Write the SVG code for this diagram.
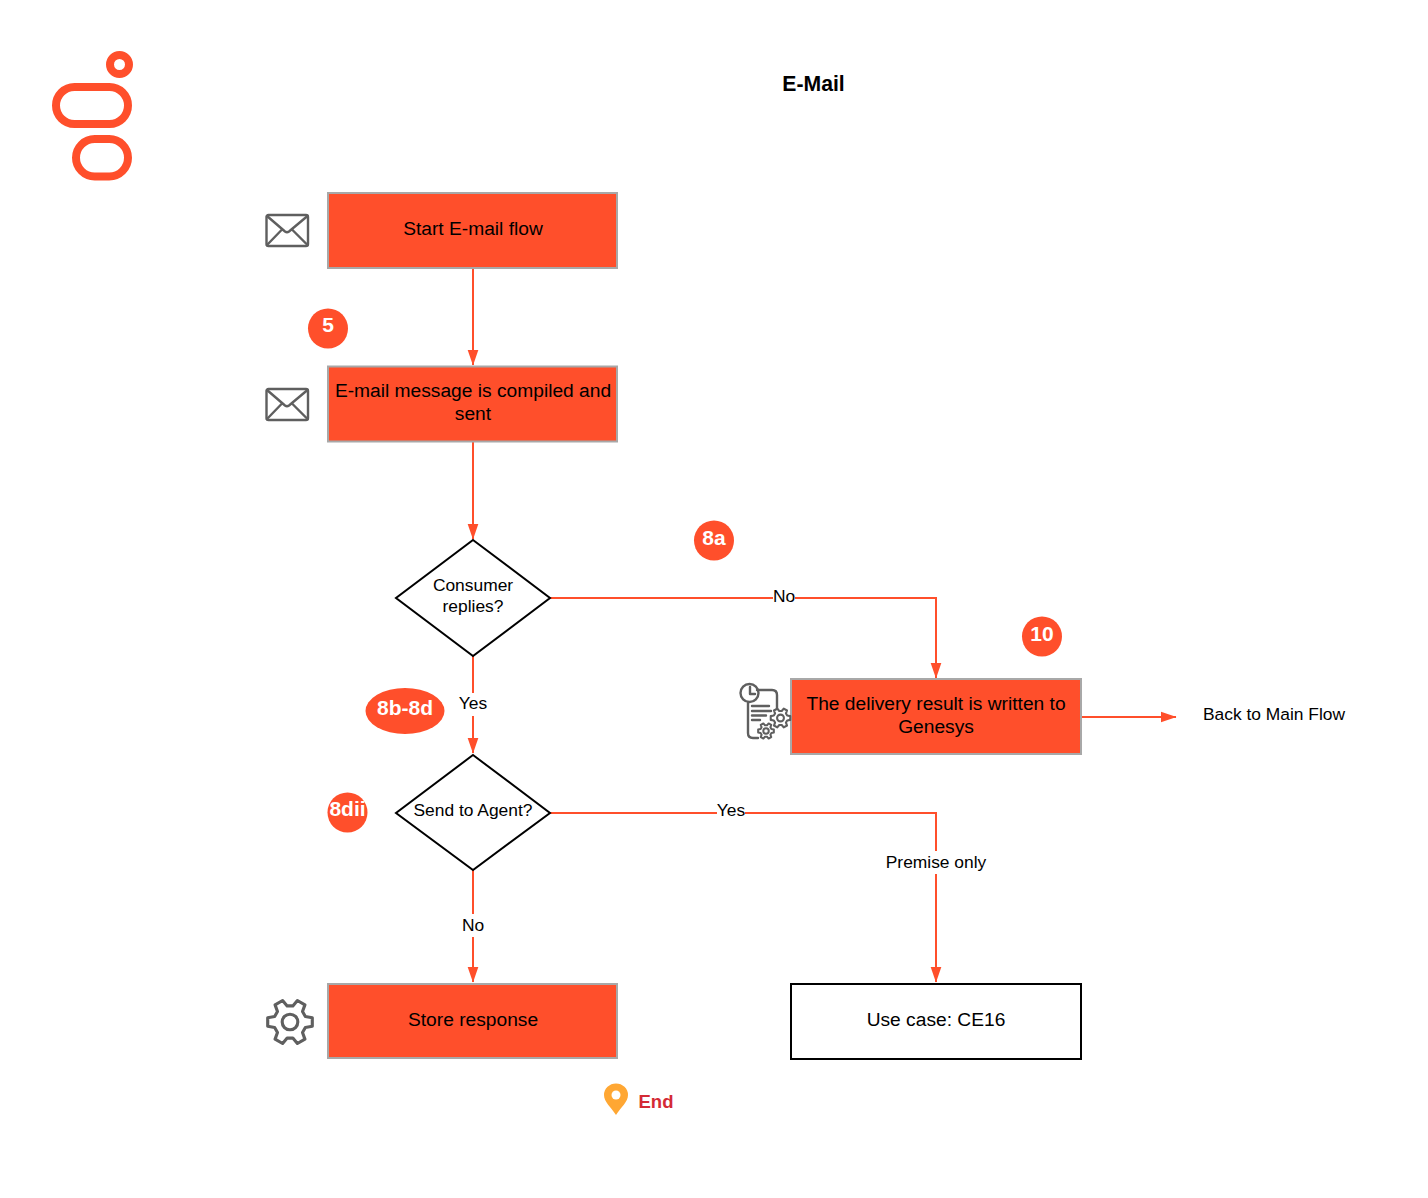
<svg xmlns="http://www.w3.org/2000/svg" width="1428" height="1198" viewBox="0 0 1428 1198">
<style>
text{font-family:"Liberation Sans",Arial,sans-serif;fill:#000;text-anchor:middle}
.t{font-size:19.2px}
.s{font-size:17.4px}
.b{font-size:21px;font-weight:bold;fill:#fff}
.box{fill:#ff4f2b;stroke:#a8a8a8;stroke-width:2}
.dia{fill:#fff;stroke:#000;stroke-width:2}
.c{fill:none;stroke:#ff4f2b;stroke-width:2}
.badge{fill:#ff4f2b}
.ic{fill:none;stroke:#5f5f5f;stroke-width:2.4;stroke-linejoin:round;stroke-linecap:round}
.lb{fill:#fff}
.logo{fill:none;stroke:#ff4f2b;stroke-width:8}
</style>
<defs>
<marker id="a" markerUnits="userSpaceOnUse" markerWidth="18" markerHeight="14" refX="15.500" refY="6" orient="auto"><path d="M0,0.500L16,6L0,11.500z" fill="#ff4f2b"/></marker>
<g id="env"><rect x="266.500" y="0" width="41.500" height="31" rx="2" class="ic"/><path class="ic" d="M267,1L285,16.500Q287,18 289,16.500L307.500,1M267,30L282,14.500M307.500,30L292,14.500"/></g>
<g id="gear"><path d="M15.700,-3.050L15.700,3.050L10.800,3.930L8.810,7.390L10.500,12.080L5.210,15.130L2,11.330L-2,11.330L-5.210,15.130L-10.500,12.080L-8.810,7.390L-10.800,3.930L-15.700,3.050L-15.700,-3.050L-10.800,-3.930L-8.810,-7.390L-10.500,-12.080L-5.210,-15.130L-2,-11.330L2,-11.330L5.210,-15.130L10.500,-12.080L8.810,-7.390L10.800,-3.930Z"/><circle r="5.500"/></g>
</defs>

<g id="logo">
<circle cx="119.500" cy="64.500" r="9.500" class="logo"/>
<rect x="56" y="87" width="72" height="37" rx="18.500" class="logo"/>
<rect x="76" y="139" width="52" height="37.500" rx="18.750" class="logo"/>
</g>
<g id="title"><text x="813.500" y="91" font-size="21.200" font-weight="bold">E-Mail</text></g>

<g id="connectors">
<path class="c" marker-end="url(#a)" d="M473,268V365"/>
<path class="c" marker-end="url(#a)" d="M473,441V539"/>
<path class="c" marker-end="url(#a)" d="M550,598H936V678"/>
<path class="c" marker-end="url(#a)" d="M473,656V753"/>
<path class="c" marker-end="url(#a)" d="M1081,717H1176"/>
<path class="c" marker-end="url(#a)" d="M550,813H936V982"/>
<path class="c" marker-end="url(#a)" d="M473,870V982"/>
<rect class="lb" x="773" y="586" width="22" height="20"/>
<text class="s" x="784" y="601.500">No</text>
<rect class="lb" x="459" y="693" width="28" height="23"/>
<text class="s" x="473" y="708.500">Yes</text>
<rect class="lb" x="717" y="801" width="28" height="20"/>
<text class="s" x="731" y="816">Yes</text>
<rect class="lb" x="886" y="851" width="100" height="23"/>
<text class="s" x="936" y="867.500">Premise only</text>
<rect class="lb" x="462" y="914" width="22" height="23"/>
<text class="s" x="473" y="930.500">No</text>
</g>

<g id="n-start"><rect class="box" x="328" y="193" width="289" height="75"/><text class="t" x="473" y="235">Start E-mail flow</text></g>
<g id="n-compile"><rect class="box" x="328" y="366.500" width="289" height="75"/><text class="t" x="473" y="397">E-mail message is compiled and</text><text class="t" x="473" y="420">sent</text></g>
<g id="n-replies"><path class="dia" d="M473,540L550,598L473,656L396,598Z"/><text class="s" x="473" y="591">Consumer</text><text class="s" x="473" y="612">replies?</text></g>
<g id="n-agent"><path class="dia" d="M473,755L550,813L473,870L396,813Z"/><text class="s" x="473" y="816">Send to Agent?</text></g>
<g id="n-delivery"><rect class="box" x="791" y="679" width="290" height="75"/><text class="t" x="936" y="710">The delivery result is written to</text><text class="t" x="936" y="733">Genesys</text></g>
<g id="n-store"><rect class="box" x="328" y="984" width="289" height="74"/><text class="t" x="473" y="1026">Store response</text></g>
<g id="n-usecase"><rect x="791" y="984" width="290" height="75" fill="#fff" stroke="#000" stroke-width="2"/><text class="t" x="936" y="1026">Use case: CE16</text></g>
<g id="n-back"><text class="s" x="1274" y="720">Back to Main Flow</text></g>

<g id="b-5"><circle class="badge" cx="328" cy="328.500" r="20"/><text class="b" x="328" y="332">5</text></g>
<g id="b-8a"><circle class="badge" cx="714" cy="540.500" r="20"/><text class="b" x="714" y="545">8a</text></g>
<g id="b-10"><circle class="badge" cx="1042" cy="636.500" r="20"/><text class="b" x="1042" y="641">10</text></g>
<g id="b-8b"><ellipse class="badge" cx="405" cy="711" rx="39.500" ry="23"/><text class="b" x="405" y="715">8b-8d</text></g>
<g id="b-8dii"><circle class="badge" cx="347.500" cy="812.500" r="20"/><text class="b" x="347.500" y="816">8dii</text></g>

<g id="i-env1"><use href="#env" y="215"/></g>
<g id="i-env2"><use href="#env" y="389"/></g>
<g id="i-doc">
<path class="ic" d="M757,690H772Q777,690 777,695V712M748,703V733Q748,738 753,738H758"/>
<circle class="ic" cx="749.500" cy="693" r="9" fill="#fff"/>
<path class="ic" d="M750,687V694H755M752,706H769M752,711H771M752,715.500H766M752,720H760"/>
<circle cx="780.500" cy="718" r="9" fill="#fff"/>
<circle cx="766" cy="731" r="7" fill="#fff"/>
<g class="ic" transform="translate(780.500,718) scale(.62)" style="stroke-width:3.4"><use href="#gear"/></g>
<g class="ic" transform="translate(766,731) scale(.5)" style="stroke-width:4"><use href="#gear"/></g>
</g>
<g id="i-gear"><g class="ic" transform="translate(290,1022) scale(1.42)" style="stroke-width:2.2"><use href="#gear"/></g></g>
<g id="end">
<path d="M616,1115C611,1107 604,1102 604,1095A12,11.500 0 0 1 628,1095C628,1102 621,1107 616,1115Z" fill="#ffa733"/>
<circle cx="616" cy="1095" r="4.500" fill="#fff"/>
<text x="656" y="1108" font-size="18.500" font-weight="bold" style="fill:#d42a35">End</text>
</g>
</svg>
